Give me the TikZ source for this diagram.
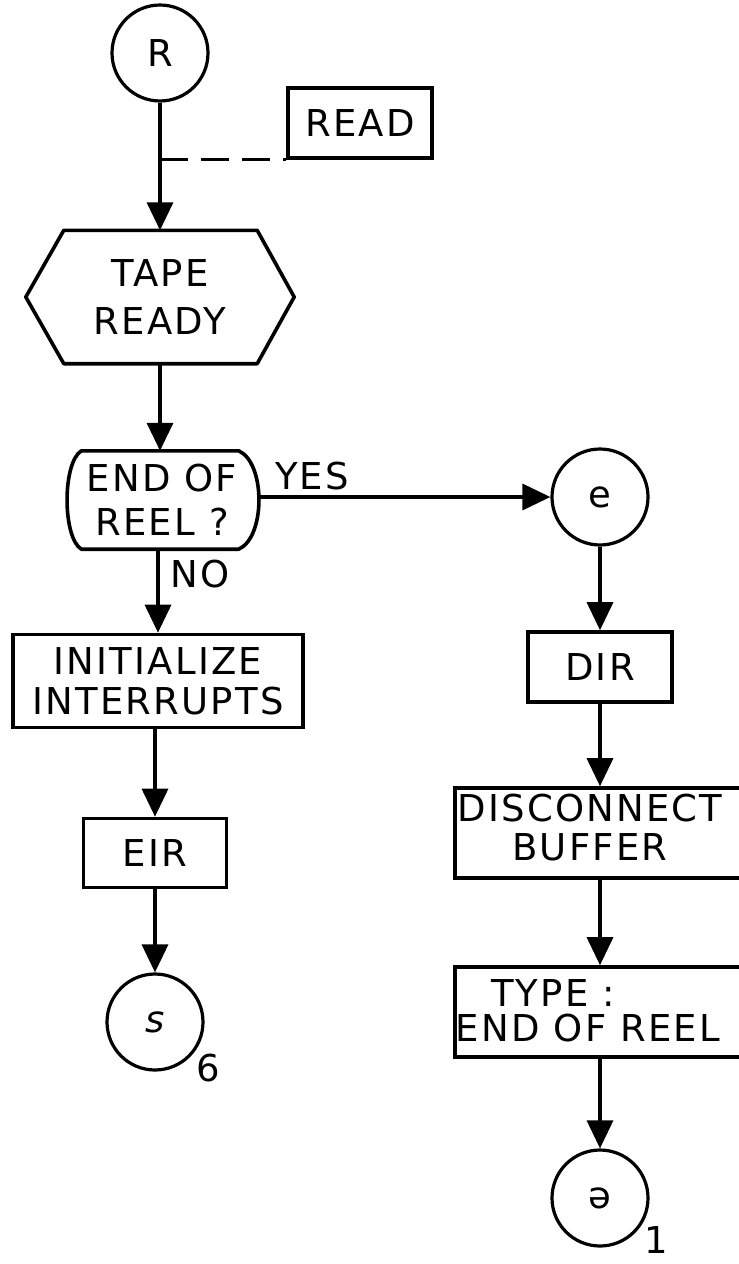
\documentclass[tikz,border=0pt]{standalone}
\usepackage{fontspec}
\setmainfont{DejaVu Sans}[LetterSpace=6]
\usetikzlibrary{arrows.meta}
\begin{document}
\begin{tikzpicture}[x=1pt,y=-1pt,
  line width=3.4pt,
  flow/.style={-{Triangle[width=26pt,length=28pt]}},
  txt/.style={font=\fontsize{37}{46}\selectfont, align=center, inner sep=0pt},
  conn/.style={draw, circle, minimum size=96pt, inner sep=0pt, line width=3.2pt, txt},
  stepbox/.style={draw, rectangle, inner sep=0pt, line width=3.6pt, txt},
  plain/.style={inner sep=0pt, txt}
]
\useasboundingbox (0,0) rectangle (739,1264);

% connectors (circles)
\node[conn] (R) at (160,53) {R};
\node[conn] (e) at (600,497) {e};
\node[conn] (s) at (155,1022) {\itshape s};
\node[conn] (a) at (600,1198) {ə};
\node[plain] (six) at (208,1068) {6};
\node[plain] (one) at (656,1240) {1};

% annotation box
\node[stepbox, minimum width=144pt, minimum height=70pt] (read) at (360,123) {READ};
\coordinate (tap) at (R.south |- read.south);
\draw[dashed, dash pattern=on 28pt off 13pt, line width=3pt] (tap) -- (read.south west);

% preparation (hexagon)
\node[plain, minimum width=265pt, minimum height=130pt, font=\fontsize{37}{48}\selectfont] (tape) at (160,297) {TAPE\\READY};
\draw[line width=3.6pt, line join=round]
  (tape.west) -- ([xshift=38pt]tape.north west) -- ([xshift=-37pt]tape.north east)
  -- (tape.east) -- ([xshift=-37pt]tape.south east) -- ([xshift=38pt]tape.south west) -- cycle;

% decision with rounded sides
\node[plain, minimum width=190pt, minimum height=95pt, font=\fontsize{37}{44}\selectfont] (endq) at (162,500) {END OF\\REEL ?};
\draw[line width=3.6pt, line join=round]
  ([xshift=16pt]endq.north west) -- ([xshift=-20pt]endq.north east)
  .. controls ([xshift=7pt,yshift=-12pt]endq.north east) and ([xshift=7pt,yshift=12pt]endq.south east) .. ([xshift=-20pt]endq.south east)
  -- ([xshift=16pt]endq.south west)
  .. controls ([xshift=-3pt,yshift=12pt]endq.south west) and ([xshift=-3pt,yshift=-12pt]endq.north west) .. cycle;

% process boxes, left column
\node[stepbox, minimum width=290pt, minimum height=93pt, font=\fontsize{37}{40}\selectfont] (init) at (158,681) {INITIALIZE\\INTERRUPTS};
\node[stepbox, minimum width=143pt, minimum height=69pt] (eir) at (155,853) {EIR};

% process boxes, right column (running off the right edge)
\node[stepbox, minimum width=144pt, minimum height=70pt] (dir) at (600,667) {DIR};
\node[draw, rectangle, line width=3.6pt, minimum width=300pt, minimum height=90pt, anchor=west] (disc) at (453,833) {};
\node[plain, font=\fontsize{37}{39}\selectfont] (disctext) at (590,828) {DISCONNECT\\BUFFER};
\node[draw, rectangle, line width=3.6pt, minimum width=300pt, minimum height=90pt, anchor=west] (type) at (453,1012) {};
\node[plain] (typetext) at (553,993) {TYPE :};
\node[plain] (reeltext) at (588,1028) {END OF REEL};

% flow lines
\draw[flow] (R) -- (tape);
\draw[flow] (tape) -- (endq.north -| tape.south);
\draw[flow] (endq.south -| init.north) -- (init.north);
\draw[flow] (init.south -| eir.north) -- (eir.north);
\draw[flow] (eir) -- (s);
\draw[flow] (endq.east |- e.west) -- (e.west);
\draw[flow] (e) -- (dir);
\draw[flow] (dir.south) -- (dir.south |- disc.north);
\draw[flow] (dir.south |- disc.south) -- (dir.south |- type.north);
\draw[flow] (a.north |- type.south) -- (a.north);

% branch labels
\node[plain] (yes) at (312,476) {YES};
\node[plain] (no) at (200,574) {NO};
\end{tikzpicture}
\end{document}
